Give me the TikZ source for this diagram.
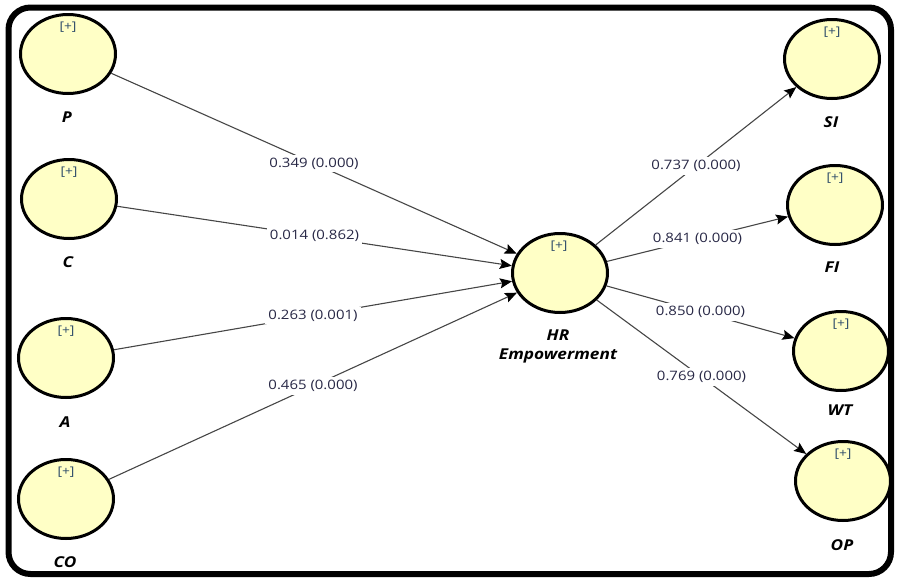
\documentclass[tikz,border=0pt]{standalone}
\usepackage{fontspec}
\setmainfont{Open Sans}[FakeStretch=1.15]
\usetikzlibrary{shapes.geometric,arrows.meta}
\definecolor{lvfill}{RGB}{255,255,198}
\definecolor{plusc}{RGB}{45,75,105}
\definecolor{numc}{RGB}{40,40,70}
\definecolor{linec}{RGB}{70,70,70}
\tikzset{
  lv/.style={ellipse, draw=black, line width=3pt, fill=lvfill, minimum width=95pt, minimum height=79pt, inner sep=0pt},
  plus/.style={text=plusc, font=\fontsize{12}{14}\selectfont, inner sep=0pt},
  lvname/.style={font=\fontsize{15}{19}\selectfont\bfseries\itshape, text=black, inner sep=0pt},
  path/.style={draw=linec, line width=1.1pt, -{Stealth[length=12pt,width=10pt,inset=2pt,color=black]}},
  coef/.style={fill=white, inner sep=3pt, text=numc, font=\fontsize{13}{15}\selectfont, pos=0.5}
}
\begin{document}
\begin{tikzpicture}[x=1pt,y=-1pt]
\useasboundingbox (0,0) rectangle (900,579);
\draw[line width=6pt, rounded corners=22pt] (8.5,7.5) rectangle (891,574);
% latent variables
\node[lv] (P) at (68,54) {};
\node[lv] (C) at (69,199) {};
\node[lv] (A) at (66,358) {};
\node[lv] (CO) at (66,499) {};
\node[lv] (HR) at (560,273) {};
\node[lv] (SI) at (832,59) {};
\node[lv] (FI) at (835,205) {};
\node[lv] (WT) at (841,351) {};
\node[lv] (OP) at (843,481) {};
% [+] markers
\node[plus] (Pp) at (68,27) {[+]};
\node[plus] (Cp) at (69,172) {[+]};
\node[plus] (Ap) at (66,331) {[+]};
\node[plus] (COp) at (66,472) {[+]};
\node[plus] (HRp) at (559,246) {[+]};
\node[plus] (SIp) at (832,32) {[+]};
\node[plus] (FIp) at (835,178) {[+]};
\node[plus] (WTp) at (841,324) {[+]};
\node[plus] (OPp) at (843,454) {[+]};
% names
\node[lvname] (Pn) at (67,117) {P};
\node[lvname] (Cn) at (68,262) {C};
\node[lvname] (An) at (65,422) {A};
\node[lvname] (COn) at (65,562) {CO};
\node[lvname, align=center] (HRn) at (558,346) {HR\\Empowerment};
\node[lvname] (SIn) at (831,122) {SI};
\node[lvname] (FIn) at (832,267) {FI};
\node[lvname] (WTn) at (840,410) {WT};
\node[lvname] (OPn) at (842,545) {OP};
% paths
\draw[path] (P) -- node[coef] (e1) {0.349 (0.000)} (HR);
\draw[path] (C) -- node[coef] (e2) {0.014 (0.862)} (HR);
\draw[path] (A) -- node[coef] (e3) {0.263 (0.001)} (HR);
\draw[path] (CO) -- node[coef] (e4) {0.465 (0.000)} (HR);
\draw[path] (HR) -- node[coef] (e5) {0.737 (0.000)} (SI);
\draw[path] (HR) -- node[coef] (e6) {0.841 (0.000)} (FI);
\draw[path] (HR) -- node[coef] (e7) {0.850 (0.000)} (WT);
\draw[path] (HR) -- node[coef] (e8) {0.769 (0.000)} (OP);
\end{tikzpicture}
\end{document}
